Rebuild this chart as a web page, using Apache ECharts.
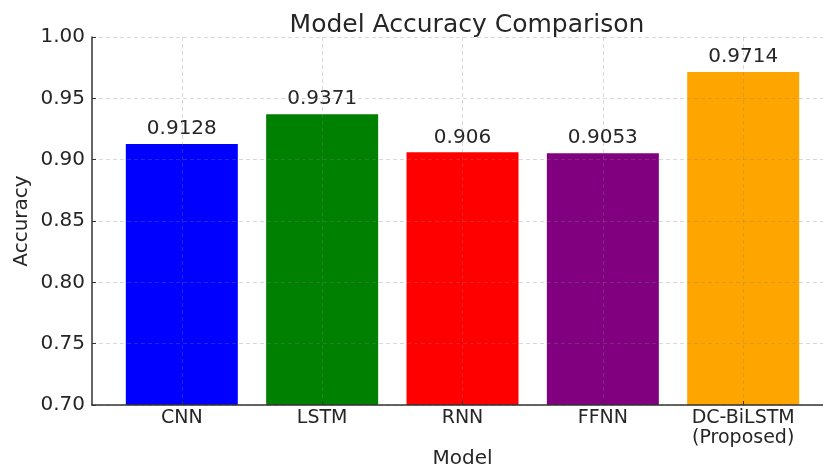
<!DOCTYPE html>
<html>
<head>
<meta charset="utf-8">
<script src="https://cdn.jsdelivr.net/npm/echarts@6/dist/echarts.min.js"></script>
<style>
  html, body { margin: 0; padding: 0; background: #fff; }
  #chart { width: 823px; height: 466px; }
</style>
</head>
<body>
<div id="chart"></div>
<script>
// chart data
var models = ['CNN', 'LSTM', 'RNN', 'FFNN', 'DC-BiLSTM\n(Proposed)']
var accuracy = [0.9128, 0.9371, 0.906, 0.9053, 0.9714]
var barColors = ['#0000ff', '#008000', '#ff0000', '#800080', '#ffa500']
var yTicks = [0.70, 0.75, 0.80, 0.85, 0.90, 0.95, 1.00]

var FONT = 'DejaVu Sans'
var TEXT = '#262626'

var chart = echarts.init(document.getElementById('chart'))

var barData = accuracy.map(function (v, i) {
  return { value: [i, v], itemStyle: { color: barColors[i] } }
})

chart.setOption({
  animation: false,
  title: {
    text: 'Model Accuracy Comparison',
    left: 462,
    textAlign: 'center',
    top: 8,
    textStyle: { fontFamily: FONT, fontSize: 25, fontWeight: 'normal', color: TEXT }
  },
  grid: {
    left: 92,
    right: -10,
    top: 37,
    bottom: 61,
    outerBoundsMode: 'none',
    containLabel: false
  },
  xAxis: {
    type: 'value',
    min: -0.64,
    max: 4.64,
    z: 5,
    name: 'Model',
    nameLocation: 'middle',
    nameGap: 44,
    nameMoveOverlap: false,
    nameTextStyle: { fontFamily: FONT, fontSize: 20, color: TEXT },
    axisLine: { show: true, onZero: false, lineStyle: { color: '#333', width: 1.5 } },
    axisTick: {
      show: true,
      inside: true,
      length: 4,
      lineStyle: { color: '#333' },
      customValues: [0, 1, 2, 3, 4]
    },
    axisLabel: {
      fontFamily: FONT,
      fontSize: 19,
      color: TEXT,
      margin: 3,
      lineHeight: 20,
      customValues: [0, 1, 2, 3, 4],
      formatter: function (v) { return models[Math.round(v)] || '' }
    },
    splitLine: {
      show: true,
      lineStyle: { color: 'rgba(128,128,128,0.3)', type: [4, 3], width: 1 }
    }
  },
  yAxis: {
    type: 'value',
    min: 0.7,
    max: 1.0,
    interval: 0.05,
    z: 5,
    name: 'Accuracy',
    nameLocation: 'middle',
    nameGap: 60,
    nameMoveOverlap: false,
    nameTextStyle: { fontFamily: FONT, fontSize: 20, color: TEXT },
    axisLine: { show: true, onZero: false, lineStyle: { color: '#333', width: 1.5 } },
    axisTick: { show: true, inside: true, length: 4, lineStyle: { color: '#333' } },
    axisLabel: {
      fontFamily: FONT,
      fontSize: 20,
      color: TEXT,
      margin: 7,
      formatter: function (v) { return v.toFixed(2) }
    },
    splitLine: {
      show: true,
      lineStyle: { color: 'rgba(128,128,128,0.3)', type: [4, 3], width: 1 }
    }
  },
  series: [{
    type: 'bar',
    barWidth: 112,
    z: 2,
    data: barData,
    label: {
      show: true,
      position: 'top',
      distance: 5,
      fontFamily: FONT,
      fontSize: 20,
      color: TEXT,
      formatter: function (p) { return String(p.value[1]) }
    }
  }]
})
</script>
</body>
</html>
